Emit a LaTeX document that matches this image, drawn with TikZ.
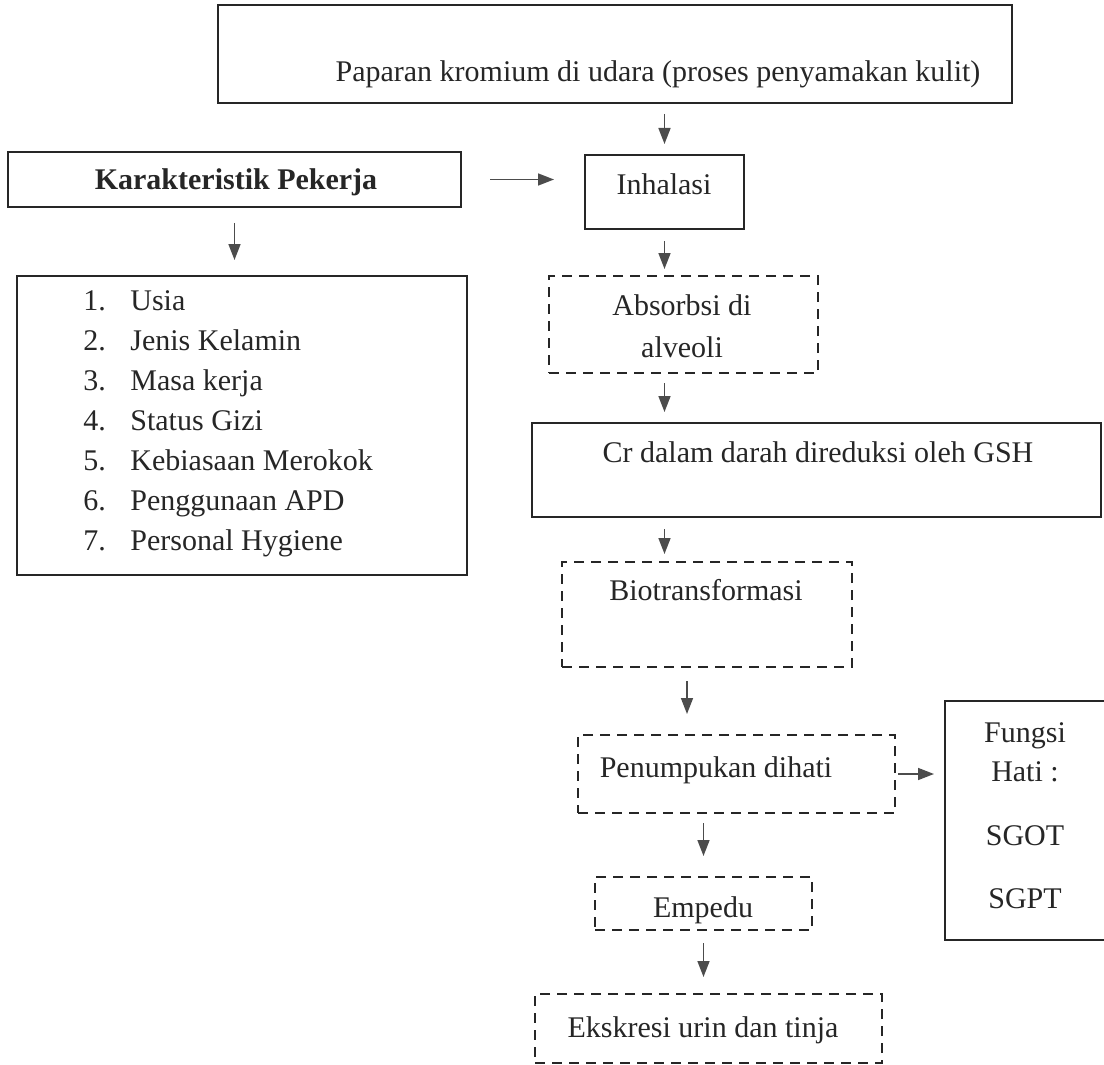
\documentclass[tikz,border=0pt]{standalone}
\usepackage{fontspec}
\setmainfont{Liberation Serif}
\usetikzlibrary{arrows.meta,fit}

\tikzset{
  kotak/.style={draw=black!85,line width=1pt,inner sep=0pt},
  kotakputus/.style={kotak,dash pattern=on 5pt off 3.5pt},
  teks/.style={inner sep=0pt,text=black!85,anchor=base},
  panah/.style={draw=black!70,line width=0.8pt,-{Triangle[length=8pt,width=6pt]}},
}

\begin{document}
\begin{tikzpicture}[x=0.5pt,y=-0.5pt,font=\fontsize{15}{18}\selectfont]
\useasboundingbox (0,0) rectangle (1104,1065);

% kotak
\node[kotak,fit={(218,5) (1012,103)}] (paparan) {};
\node[kotak,fit={(8,152) (461,207)}] (pekerja) {};
\node[kotak,fit={(585,155) (744,229)}] (inhalasi) {};
\node[kotak,fit={(17,276) (467,575)}] (daftar) {};
\node[kotakputus,fit={(549,276) (818,373)}] (absorbsi) {};
\node[kotak,fit={(532,423) (1101,517)}] (cr) {};
\node[kotakputus,fit={(562,562) (852,667)}] (bio) {};
\node[kotakputus,fit={(578,735) (895,813)}] (penumpukan) {};
\node[kotak,fit={(945,701) (1112,940)}] (fungsi) {};
\node[kotakputus,fit={(595,877) (812,930)}] (empedu) {};
\node[kotakputus,fit={(535,994) (882,1063)}] (ekskresi) {};

% teks
\node[teks] (paparanT) at (658,82) {Paparan kromium di udara (proses penyamakan kulit)};
\node[teks] (pekerjaT) at (236,190) {\bfseries Karakteristik Pekerja};
\node[teks] (inhalasiT) at (664,195) {Inhalasi};
\foreach \no/\isi [count=\i from 0] in {1/Usia,2/Jenis Kelamin,3/Masa kerja,4/Status Gizi,5/Kebiasaan Merokok,6/Penggunaan APD,7/Personal Hygiene}{
  \node[teks,anchor=base west] (no\no) at (83,310+40*\i) {\no.};
  \node[teks,anchor=base west] (isi\no) at (130,310+40*\i) {\isi};
}
\node[teks] (absorbsiT1) at (682,315) {Absorbsi di};
\node[teks] (absorbsiT2) at (682,357) {alveoli};
\node[teks] (crT) at (818,462) {Cr dalam darah direduksi oleh GSH};
\node[teks] (bioT) at (706,600) {Biotransformasi};
\node[teks] (penumpukanT) at (716,777) {Penumpukan dihati};
\node[teks] (fungsiT1) at (1025,742) {Fungsi};
\node[teks] (fungsiT2) at (1025,781) {Hati :};
\node[teks] (fungsiT3) at (1025,845) {SGOT};
\node[teks] (fungsiT4) at (1025,908) {SGPT};
\node[teks] (empeduT) at (703,917) {Empedu};
\node[teks] (ekskresiT) at (703,1037) {Ekskresi urin dan tinja};

% panah
\draw[panah,shorten <=5pt,shorten >=5pt] (paparan.south -| inhalasi.north) -- (inhalasi.north);
\draw[panah,shorten <=7.5pt,shorten >=7.5pt] (pekerja.south) -- (pekerja.south |- daftar.north);
\draw[panah,shorten <=14pt,shorten >=15pt] (pekerja.east) -- (pekerja.east -| inhalasi.west);
\draw[panah,shorten <=5.5pt,shorten >=3pt] (inhalasi.south) -- (inhalasi.south |- absorbsi.north);
\draw[panah,shorten <=4.5pt,shorten >=5pt] (absorbsi.south -| inhalasi.south) -- (cr.north -| inhalasi.south);
\draw[panah,shorten <=5.5pt,shorten >=3.5pt] (cr.south -| inhalasi.south) -- (bio.north -| inhalasi.south);
\coordinate (biokeluar) at ([xshift=-10pt]bio.south);
\draw[panah,shorten <=6.5pt,shorten >=10pt] (biokeluar) -- (biokeluar |- penumpukan.north);
\draw[panah,shorten <=1pt,shorten >=5pt] (penumpukan.east) -- (penumpukan.east -| fungsi.west);
\draw[panah,shorten <=4.5pt,shorten >=10pt] (penumpukan.south -| empedu.north) -- (empedu.north);
\draw[panah,shorten <=6pt,shorten >=8pt] (empedu.south) -- (empedu.south |- ekskresi.north);

\end{tikzpicture}
\end{document}
